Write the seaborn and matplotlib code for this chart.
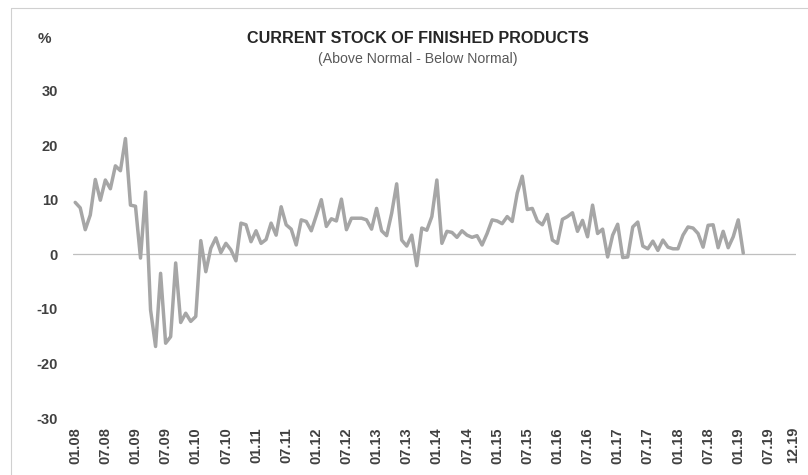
import matplotlib
matplotlib.use("Agg")
import matplotlib.pyplot as plt
import seaborn as sns
import numpy as np
import pandas as pd
from matplotlib.lines import Line2D

# ---- data ----
values = [
    9.5, 8.5, 4.5, 7.2, 13.7, 9.9, 13.6, 12.0, 16.2, 15.3, 21.2, 9.0,
    8.8, -0.7, 11.4, -10.2, -16.9, -3.5, -16.3, -15.1, -1.6, -12.5, -10.8, -12.3,
    -11.4, 2.5, -3.2, 1.1, 3.0, 0.3, 2.0, 0.8, -1.2, 5.7, 5.4, 2.3,
    4.3, 2.0, 2.7, 5.7, 3.5, 8.7, 5.4, 4.6, 1.7, 6.3, 6.0, 4.3,
    7.1, 10.0, 5.1, 6.5, 6.1, 10.1, 4.5, 6.6, 6.6, 6.6, 6.3, 4.6,
    8.4, 4.3, 3.4, 7.5, 12.9, 2.6, 1.5, 3.5, -2.1, 4.8, 4.4, 6.9,
    13.6, 2.0, 4.2, 4.0, 3.1, 4.3, 3.5, 3.1, 3.4, 1.7, 3.8, 6.3,
    6.1, 5.6, 6.9, 6.0, 11.2, 14.3, 8.2, 8.4, 6.1, 5.4, 7.3, 2.6,
    2.0, 6.4, 6.9, 7.6, 4.2, 6.2, 3.2, 9.0, 3.8, 4.6, -0.5, 3.5,
    5.5, -0.6, -0.5, 5.0, 5.9, 1.5, 1.0, 2.4, 0.7, 2.6, 1.3, 1.0,
    1.0, 3.5, 5.0, 4.8, 3.8, 1.3, 5.3, 5.4, 1.2, 4.2, 1.2, 3.2,
    6.3, 0.2,
]
# months from 01.08 to 12.19
months = [f"{m:02d}.{y:02d}" for y in range(8, 20) for m in range(1, 13)]
tick_labels = ["01.08", "07.08", "01.09", "07.09", "01.10", "07.10", "01.11", "07.11",
               "01.12", "07.12", "01.13", "07.13", "01.14", "07.14", "01.15", "07.15",
               "01.16", "07.16", "01.17", "07.17", "01.18", "07.18", "01.19", "07.19",
               "12.19"]
y_ticks = [-30, -20, -10, 0, 10, 20, 30]
title = "CURRENT STOCK OF FINISHED PRODUCTS"
subtitle = "(Above Normal - Below Normal)"

df = pd.DataFrame({"month": months[:len(values)], "value": values})
df["pos"] = [months.index(m) for m in df["month"]]

sns.set_theme(style="white")
plt.rcParams["font.family"] = ["Liberation Sans", "DejaVu Sans"]

W, H = 808, 475
fig = plt.figure(figsize=(W / 100, H / 100), dpi=100)
fig.patch.set_facecolor("white")

left, right, top, bottom = 72.7, 796, 90.5, 418
ax = fig.add_axes([left / W, 1 - bottom / H, (right - left) / W, (bottom - top) / H])

ax.axhline(0, color="#BFBFBF", lw=0.9, zorder=1)
sns.lineplot(data=df, x="pos", y="value", ax=ax, color="#A6A6A6", lw=2.5,
             solid_joinstyle="round", zorder=2)

ax.set_xlim(-0.5, len(months) - 0.5)
ax.set_ylim(-30, 30)
tick_pos = [months.index(t) for t in tick_labels]
ax.set_xticks(tick_pos)
ax.set_xticklabels(tick_labels, rotation=90, fontsize=10.5, fontweight="bold", color="#404040")
ax.set_yticks(y_ticks)
ax.set_yticklabels([str(v) for v in y_ticks], fontsize=10.5, fontweight="bold", color="#404040")
ax.tick_params(axis="y", length=0, pad=10.5)
ax.tick_params(axis="x", length=0, pad=6.5)
ax.set_xlabel("")
ax.set_ylabel("")
for s in ax.spines.values():
    s.set_visible(False)
ax.grid(False)
ax.set_facecolor("none")

fig.text(44 / W, 1 - 39 / H, "%", ha="center", va="center", fontsize=11,
         fontweight="bold", color="#404040")
fig.text(418 / W, 1 - 38.5 / H, title, ha="center", va="center", fontsize=11.6,
         fontweight="bold", color="#262626")
fig.text(418 / W, 1 - 59.5 / H, subtitle, ha="center", va="center", fontsize=10.2,
         color="#595959")

# light frame (top and left edges visible)
fig.add_artist(Line2D([10.7 / W, 1.0], [1 - 8.3 / H, 1 - 8.3 / H], color="#D0D0D0", lw=0.8,
                      transform=fig.transFigure))
fig.add_artist(Line2D([10.7 / W, 10.7 / W], [1 - 8.3 / H, 0.0], color="#D0D0D0", lw=0.8,
                      transform=fig.transFigure))

fig.savefig("out.png", dpi=100)
